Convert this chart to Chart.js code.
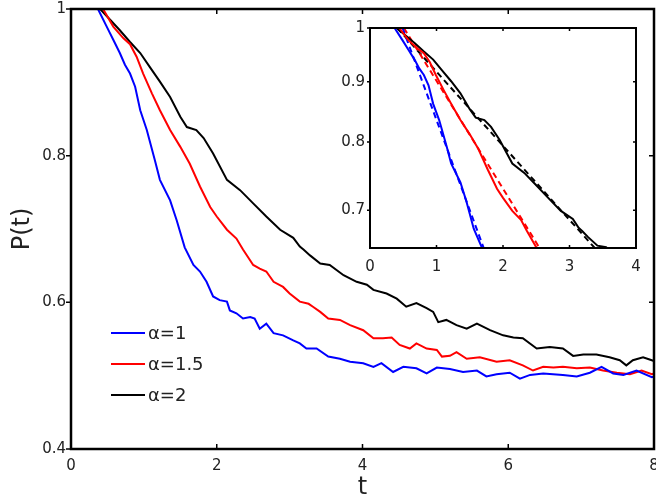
<!DOCTYPE html>
<html>
<head>
<meta charset="utf-8">
<script src="https://cdn.jsdelivr.net/npm/chart.js@4.4.1/dist/chart.umd.min.js"></script>
<style>
  html, body { margin: 0; padding: 0; background: #fff; }
  #wrap { position: relative; width: 656px; height: 500px; }
  #main { position: absolute; left: 0; top: 0; }
  #inset { position: absolute; left: 325px; top: 15px; }
</style>
</head>
<body>
<div id="wrap">
  <canvas id="main" width="656" height="500"></canvas>
  <canvas id="inset" width="320" height="265"></canvas>
</div>
<script>
/* ---------- data ---------- */
const seriesLabels = ["α=1", "α=1.5", "α=2"];
const seriesColors = ["#0000ff", "#ff0000", "#000000"];

// alpha = 1
const tBlue = [0, 0.37, 0.49, 0.58, 0.67, 0.74, 0.81, 0.88, 0.95, 1.04,
  1.15, 1.22, 1.36, 1.45, 1.56, 1.68, 1.77, 1.86, 1.95, 2.04,
  2.14, 2.18, 2.27, 2.36, 2.46, 2.52, 2.59, 2.68, 2.78, 2.91,
  3.05, 3.14, 3.23, 3.37, 3.53, 3.69, 3.83, 4.01, 4.15, 4.26,
  4.42, 4.56, 4.74, 4.88, 5.02, 5.2, 5.38, 5.57, 5.7, 5.84,
  6.02, 6.16, 6.3, 6.48, 6.75, 6.94, 7.12, 7.28, 7.44, 7.58,
  7.76, 7.97, 8];
const pBlue = [1, 1, 0.976, 0.958, 0.94, 0.924, 0.912, 0.894, 0.862, 0.835,
  0.794, 0.767, 0.739, 0.712, 0.675, 0.651, 0.642, 0.628, 0.608, 0.603,
  0.601, 0.589, 0.585, 0.578, 0.58, 0.578, 0.564, 0.571, 0.558, 0.555,
  0.548, 0.544, 0.537, 0.537, 0.526, 0.523, 0.519, 0.517, 0.512, 0.517,
  0.505, 0.512, 0.51, 0.503, 0.511, 0.509, 0.505, 0.507, 0.499, 0.502,
  0.504, 0.496, 0.501, 0.503, 0.501, 0.499, 0.504, 0.512, 0.503, 0.501,
  0.507, 0.498, 0.499];

// alpha = 1.5
const tRed = [0, 0.44, 0.58, 0.72, 0.81, 0.9, 0.99, 1.11, 1.22, 1.36,
  1.5, 1.63, 1.77, 1.91, 2.0, 2.14, 2.27, 2.36, 2.5, 2.59,
  2.68, 2.78, 2.91, 3.0, 3.14, 3.26, 3.32, 3.42, 3.53, 3.69,
  3.83, 4.01, 4.15, 4.28, 4.4, 4.51, 4.65, 4.74, 4.88, 5.02,
  5.09, 5.2, 5.29, 5.43, 5.61, 5.84, 6.02, 6.2, 6.34, 6.48,
  6.62, 6.75, 6.94, 7.12, 7.3, 7.49, 7.67, 7.83, 7.97, 8];
const pRed = [1, 1, 0.976, 0.96, 0.952, 0.935, 0.912, 0.885, 0.862, 0.835,
  0.812, 0.789, 0.758, 0.73, 0.717, 0.699, 0.687, 0.672, 0.651, 0.646,
  0.642, 0.628, 0.621, 0.612, 0.601, 0.598, 0.594, 0.587, 0.578, 0.576,
  0.569, 0.562, 0.551, 0.551, 0.552, 0.542, 0.537, 0.544, 0.537, 0.535,
  0.526, 0.527, 0.532, 0.523, 0.525, 0.519, 0.521, 0.514, 0.507, 0.512,
  0.511, 0.512, 0.51, 0.511, 0.507, 0.504, 0.502, 0.507, 0.502, 0.503];

// alpha = 2
const tBlack = [0, 0.4, 0.54, 0.67, 0.81, 0.95, 1.08, 1.22, 1.36, 1.5,
  1.59, 1.72, 1.82, 1.95, 2.14, 2.32, 2.5, 2.68, 2.87, 3.05,
  3.14, 3.19, 3.28, 3.42, 3.55, 3.74, 3.92, 4.06, 4.15, 4.33,
  4.47, 4.6, 4.74, 4.88, 4.97, 5.04, 5.15, 5.29, 5.43, 5.57,
  5.75, 5.93, 6.07, 6.2, 6.39, 6.57, 6.75, 6.89, 7.03, 7.21,
  7.39, 7.53, 7.62, 7.71, 7.85, 7.97, 8];
const pBlack = [1, 1, 0.985, 0.971, 0.955, 0.94, 0.921, 0.901, 0.88, 0.853,
  0.839, 0.835, 0.824, 0.803, 0.767, 0.753, 0.735, 0.717, 0.699, 0.688,
  0.676, 0.672, 0.664, 0.653, 0.651, 0.637, 0.628, 0.624, 0.617, 0.612,
  0.605, 0.594, 0.599, 0.592, 0.587, 0.573, 0.576, 0.569, 0.564, 0.571,
  0.562, 0.555, 0.552, 0.551, 0.537, 0.539, 0.537, 0.527, 0.529, 0.529,
  0.525, 0.521, 0.514, 0.521, 0.525, 0.521, 0.52];

// exponential fits shown dashed in the inset (straight on the log axis)
const tFitBlue = [0.49, 1.71];
const pFitBlue = [1, 0.65];
const tFitRed = [0.51, 2.55];
const pFitRed = [1, 0.65];
const tFitBlack = [0.41, 3.38];
const pFitBlack = [1, 0.65];

// ticks
const mainXTicks = [0, 2, 4, 6, 8];
const mainYTicks = [0.4, 0.6, 0.8, 1];
const insetXTicks = [0, 1, 2, 3, 4];
const insetYTicks = [0.7, 0.8, 0.9, 1];

/* ---------- helpers ---------- */
const FONT = "DejaVu Sans";
const TXT = "#222";

function pts(ts, ps) {
  return ts.map((t, i) => ({ x: t, y: ps[i] }));
}

// box round the plot + inward ticks (left ticks stick outward, as in the original)
function framePlugin(len, lw) {
  return {
    id: "frame",
    afterDatasetsDraw(chart) {
      const { ctx, chartArea: a } = chart;
      const sx = chart.scales.x, sy = chart.scales.y;
      ctx.save();
      ctx.strokeStyle = "#000";
      ctx.lineWidth = 1.5;
      ctx.beginPath();
      sx.ticks.forEach(t => {
        const px = sx.getPixelForValue(t.value);
        ctx.moveTo(px, a.bottom); ctx.lineTo(px, a.bottom - len);
        ctx.moveTo(px, a.top); ctx.lineTo(px, a.top + len);
      });
      sy.ticks.forEach(t => {
        const py = sy.getPixelForValue(t.value);
        ctx.moveTo(a.left - len, py); ctx.lineTo(a.left, py);
        ctx.moveTo(a.right, py); ctx.lineTo(a.right - len, py);
      });
      ctx.stroke();
      ctx.lineWidth = lw;
      ctx.strokeRect(a.left, a.top, a.right - a.left, a.bottom - a.top);
      ctx.restore();
    }
  };
}

const legendPlugin = {
  id: "insideLegend",
  afterDatasetsDraw(chart) {
    const { ctx, chartArea: a } = chart;
    ctx.save();
    ctx.font = "18px '" + FONT + "'";
    ctx.textBaseline = "middle";
    chart.data.datasets.forEach((ds, i) => {
      const y = a.top + 324 + i * 31;
      ctx.strokeStyle = ds.borderColor;
      ctx.lineWidth = 2;
      ctx.beginPath();
      ctx.moveTo(a.left + 40, y);
      ctx.lineTo(a.left + 74, y);
      ctx.stroke();
      ctx.fillStyle = TXT;
      ctx.fillText(ds.label, a.left + 77, y + 1);
    });
    ctx.restore();
  }
};

function fixedTicks(list) {
  return s => { s.ticks = list.map(v => ({ value: v })); };
}

/* ---------- main chart ---------- */
new Chart(document.getElementById("main"), {
  type: "line",
  data: {
    datasets: [
      { label: seriesLabels[0], data: pts(tBlue, pBlue), borderColor: seriesColors[0] },
      { label: seriesLabels[1], data: pts(tRed, pRed), borderColor: seriesColors[1] },
      { label: seriesLabels[2], data: pts(tBlack, pBlack), borderColor: seriesColors[2] }
    ]
  },
  options: {
    responsive: false,
    animation: false,
    events: [],
    layout: { padding: { top: 9, right: 2, left: 0, bottom: 0 } },
    elements: { point: { radius: 0 }, line: { borderWidth: 2, tension: 0 } },
    plugins: { legend: { display: false }, tooltip: { enabled: false } },
    scales: {
      x: {
        type: "linear", min: 0, max: 8,
        afterBuildTicks: fixedTicks(mainXTicks),
        ticks: { autoSkip: false, maxRotation: 0, padding: 8, color: TXT, font: { family: FONT, size: 15 } },
        grid: { display: false, drawTicks: false },
        border: { display: false },
        title: { display: true, text: "t", color: TXT, font: { family: FONT, size: 24, lineHeight: 1 }, padding: 0 },
        afterFit: s => { s.height = 51; s.paddingLeft = 0; s.paddingRight = 0; }
      },
      y: {
        type: "linear", min: 0.4, max: 1,
        afterBuildTicks: fixedTicks(mainYTicks),
        ticks: { autoSkip: false, padding: 5, color: TXT, font: { family: FONT, size: 15 },
                 callback: v => String(+v.toFixed(1)) },
        grid: { display: false, drawTicks: false },
        border: { display: false },
        title: { display: true, text: "P(t)", color: TXT, font: { family: FONT, size: 24, lineHeight: 1 }, padding: { top: 11 } },
        afterFit: s => { s.width = 71; s.paddingTop = 0; s.paddingBottom = 0; }
      }
    }
  },
  plugins: [framePlugin(5, 2.5), legendPlugin]
});

/* ---------- inset ---------- */
new Chart(document.getElementById("inset"), {
  type: "line",
  data: {
    datasets: [
      { data: pts(tBlue, pBlue), borderColor: seriesColors[0] },
      { data: pts(tRed, pRed), borderColor: seriesColors[1] },
      { data: pts(tBlack, pBlack), borderColor: seriesColors[2] },
      { data: pts(tFitBlue, pFitBlue), borderColor: seriesColors[0], borderDash: [6, 4] },
      { data: pts(tFitRed, pFitRed), borderColor: seriesColors[1], borderDash: [6, 4] },
      { data: pts(tFitBlack, pFitBlack), borderColor: seriesColors[2], borderDash: [6, 4] }
    ]
  },
  options: {
    responsive: false,
    animation: false,
    events: [],
    layout: { padding: { top: 13, right: 9, left: 0, bottom: 0 } },
    elements: { point: { radius: 0 }, line: { borderWidth: 2, tension: 0 } },
    plugins: { legend: { display: false }, tooltip: { enabled: false } },
    scales: {
      x: {
        type: "linear", min: 0, max: 4,
        afterBuildTicks: fixedTicks(insetXTicks),
        ticks: { autoSkip: false, maxRotation: 0, padding: 10, color: TXT, font: { family: FONT, size: 15 } },
        grid: { display: false, drawTicks: false },
        border: { display: false },
        afterFit: s => { s.height = 32; s.paddingLeft = 0; s.paddingRight = 0; }
      },
      y: {
        type: "logarithmic", min: 0.65, max: 1,
        afterBuildTicks: fixedTicks(insetYTicks),
        ticks: { autoSkip: false, padding: 5, color: TXT, font: { family: FONT, size: 15 },
                 callback: v => String(+(+v).toFixed(1)) },
        grid: { display: false, drawTicks: false },
        border: { display: false },
        afterFit: s => { s.width = 45; s.paddingTop = 0; s.paddingBottom = 0; }
      }
    }
  },
  plugins: [framePlugin(3, 2)]
});
</script>
</body>
</html>
